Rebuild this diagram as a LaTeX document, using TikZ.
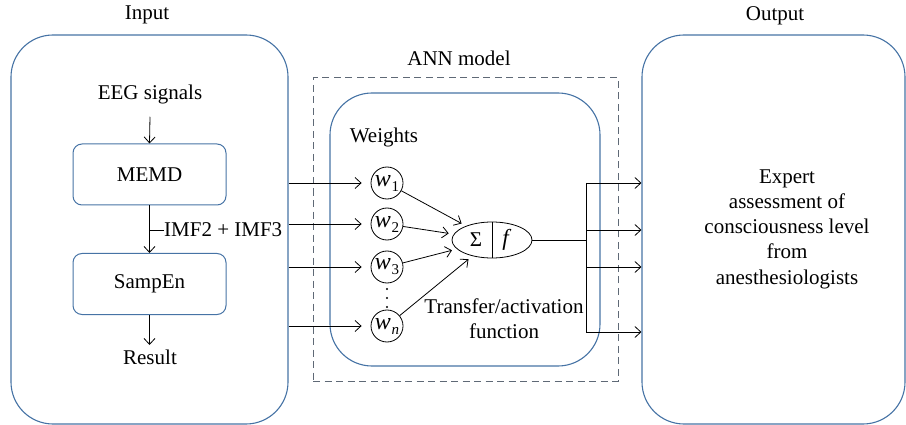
\documentclass[tikz,border=0pt]{standalone}
\usepackage{fontspec}
\setmainfont{Liberation Serif}
\usetikzlibrary{arrows.meta,shapes.geometric}
\definecolor{boxblue}{RGB}{70,115,165}
\definecolor{dashgray}{RGB}{95,105,118}
\newcommand{\wsub}[1]{{\fontsize{24}{24}\selectfont\textit{w}}\kern0.5pt\raisebox{-5pt}{\fontsize{15}{15}\selectfont #1}}
\begin{document}
\begin{tikzpicture}[x=1pt,y=-1pt,
  every node/.style={font=\fontsize{21}{25.3}\selectfont},
  bigbox/.style={draw=boxblue,line width=1.1pt,rounded corners=42pt,inner sep=0pt},
  procbox/.style={draw=boxblue,line width=1pt,rounded corners=9pt,minimum width=153pt,minimum height=61pt,inner sep=0pt},
  wnode/.style={circle,draw,line width=0.8pt,minimum size=32pt,inner sep=0pt},
  arr/.style={-{Straight Barb[length=6pt,width=11pt]},line width=0.8pt},
  ln/.style={line width=0.8pt},
  lbl/.style={inner sep=0pt}]
\useasboundingbox (0,0) rectangle (906,425);
% outer boxes
\node[bigbox,minimum width=277pt,minimum height=389pt] (inbox) at (149.5,229.5) {};
\node[bigbox,minimum width=263pt,minimum height=389pt] (outbox) at (773.5,229.5) {};
\node[draw=dashgray,line width=1pt,dash pattern=on 7pt off 4.5pt,minimum width=305pt,minimum height=303pt,inner sep=0pt] (ann) at (465.5,229.5) {};
\node[bigbox,minimum width=270pt,minimum height=273pt] (inner) at (465,229.5) {};
% titles
\node[lbl] (tin) at (147,15) {Input};
\node[lbl] (tout) at (775,16) {Output};
\node[lbl] (tann) at (459,58) {ANN model};
% input side
\node[lbl] (eeg) at (150,94) {EEG signals};
\node[procbox] (memd) at (149.5,174.5) {MEMD};
\node[procbox] (samp) at (149.5,284) {SampEn};
\node[lbl] (res) at (150,357) {Result};
\draw[arr] (eeg.south) ++(0,13) -- (memd.north);
\draw[arr] (memd.south) -- (samp.north);
\node[lbl,anchor=west] (imf) at (164,230) {IMF2 + IMF3};
\draw[ln] (imf.west) -- (imf.west -| memd.south);
\draw[arr] (samp.south) -- ++(0,30);
% weights
\node[lbl] (wt) at (384,137) {Weights};
\node[wnode] (w1) at (387,183) {\wsub{1}};
\node[wnode] (w2) at (387,224) {\wsub{2}};
\node[wnode] (w3) at (387,267) {\wsub{3}};
\node[wnode] (wn) at (387,326) {\wsub{\textit{n}}};
\foreach \yy in {289,298,307}
  \fill (387,\yy) circle (1.1pt);
\foreach \w in {w1,w2,w3,wn}
  \draw[arr,shorten >=9pt] (inbox.east |- \w) -- (\w.west);
% summation
\node[ellipse,draw,line width=0.8pt,minimum width=80pt,minimum height=36pt,inner sep=0pt] (sum) at (492,240) {};
\draw[ln] (sum.north) -- (sum.south);
\node[lbl] (sig) at (476,240) {Σ};
\node[lbl] (fn) at (507,240) {\fontsize{23}{23}\selectfont\textit{f}};
\foreach \w in {w1,w2,w3,wn}
  \draw[arr,shorten >=5pt] (\w) -- (sum);
\node[lbl,align=center] (tf) at (504,319) {Transfer/activation\\function};
% output fan
\coordinate (split) at (586,240);
\coordinate (o1) at (586,183);
\coordinate (o2) at (586,230);
\coordinate (o3) at (586,267);
\coordinate (o4) at (586,332);
\draw[ln] (sum.east) -- (split);
\draw[ln] (o1) -- (o4);
\foreach \o in {o1,o2,o3,o4}
  \draw[arr] (\o) -- (\o -| outbox.west);
\node[lbl,align=center] (expert) at (787,229) {Expert\\assessment of\\consciousness level\\from\\anesthesiologists};
\end{tikzpicture}
\end{document}
